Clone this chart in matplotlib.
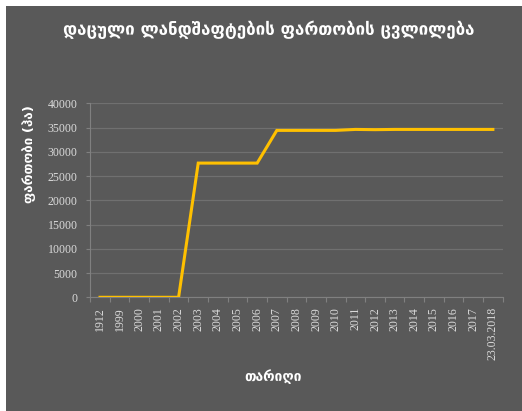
import numpy as np
import matplotlib
matplotlib.use('Agg')
from matplotlib import pyplot as plt, ticker
from matplotlib.patches import Rectangle

# data
years = ['1912', '1999', '2000', '2001', '2002', '2003', '2004', '2005', '2006',
         '2007', '2008', '2009', '2010', '2011', '2012', '2013', '2014', '2015',
         '2016', '2017', '23.03.2018']
area_ha = [0, 0, 0, 0, 0, 27700, 27700, 27700, 27700,
           34450, 34450, 34450, 34450, 34650, 34600, 34650, 34650, 34650,
           34650, 34650, 34650]

BG = '#595959'
GRID = '#707070'
AXIS = '#808080'
TICKTXT = '#d9d9d9'
GEO_FONT = ['DejaVu Sans']
NUM_FONT = ['Liberation Serif', 'DejaVu Serif']

fig = plt.figure(figsize=(5.22, 4.11), dpi=100)
fig.patch.set_facecolor('white')
fig.patches.append(Rectangle((6 / 522, 0), 1, 1 - 6 / 411, transform=fig.transFigure,
                             facecolor=BG, edgecolor='none', zorder=-10))

ax = fig.add_axes([90.2 / 522, 113.7 / 411, 412.5 / 522, 193.8 / 411])
ax.set_facecolor(BG)

x = np.arange(len(years))
ax.plot(x, area_ha, color='#FFC000', lw=2.2, solid_joinstyle='miter', zorder=3)

ax.set_xlim(-0.5, len(years) - 0.5)
ax.set_ylim(0, 40000)
ax.yaxis.set_major_locator(ticker.MultipleLocator(5000))
ax.grid(axis='y', color=GRID, lw=0.9)
ax.set_axisbelow(True)

ax.set_xticks(x)
ax.set_xticklabels(years, rotation=90, fontfamily=NUM_FONT, fontsize=8.6, color=TICKTXT)
ax.set_xticks(np.arange(-0.5, len(years)), minor=True)
ax.tick_params(axis='x', which='major', length=0, pad=7)
ax.tick_params(axis='x', which='minor', length=3.5, color=AXIS, width=0.8)
ax.tick_params(axis='y', length=3, color=AXIS, width=0.8, labelcolor=TICKTXT, pad=6)
for lab in ax.get_yticklabels():
    lab.set_fontfamily(NUM_FONT)
    lab.set_fontsize(8.6)

for side in ['top', 'right']:
    ax.spines[side].set_visible(False)
for side in ['left', 'bottom']:
    ax.spines[side].set_color(AXIS)
    ax.spines[side].set_linewidth(0.8)

fig.text(269 / 522, 1 - 30 / 411, 'დაცული ლანდშაფტების ფართობის ცვლილება',
         ha='center', va='center', color='white', fontsize=12.2, fontweight='bold',
         family=GEO_FONT)
fig.text(29 / 522, 1 - 154 / 411, 'ფართობი (ჰა)', rotation=90, ha='center', va='center',
         color='white', fontsize=9.5, fontweight='bold', family=GEO_FONT)
fig.text(273 / 522, 1 - 377 / 411, 'თარიღი', ha='center', va='center',
         color='white', fontsize=10, fontweight='bold', family=GEO_FONT)

fig.savefig('out.png', dpi=100, facecolor=fig.get_facecolor())
